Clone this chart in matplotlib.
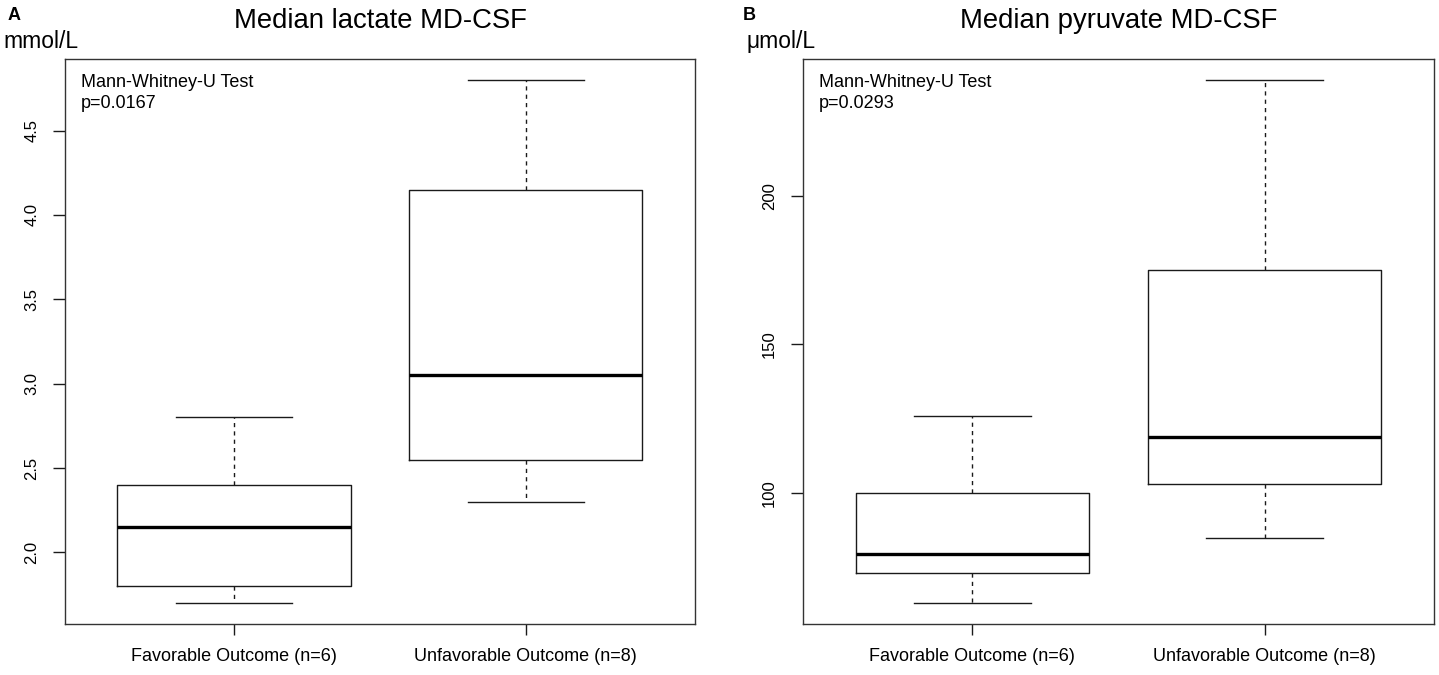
import matplotlib
matplotlib.use('Agg')
import matplotlib.pyplot as plt

plt.rcParams['font.family'] = ['Liberation Sans', 'DejaVu Sans']

W, H = 1439, 675

groups = ['Favorable Outcome (n=6)', 'Unfavorable Outcome (n=8)']

# five-number summaries: low whisker, Q1, median, Q3, high whisker
lactate_low = [1.70, 2.30]
lactate_q1 = [1.80, 2.55]
lactate_med = [2.15, 3.05]
lactate_q3 = [2.40, 4.15]
lactate_high = [2.80, 4.80]
lactate_ticks = [2.0, 2.5, 3.0, 3.5, 4.0, 4.5]

pyruvate_low = [63, 85]
pyruvate_q1 = [73, 103]
pyruvate_med = [79.5, 119]
pyruvate_q3 = [100, 175]
pyruvate_high = [126, 239]
pyruvate_ticks = [100, 150, 200]

panels = [
    dict(letter='A', title='Median lactate MD-CSF', unit='mmol/L', p='p=0.0167',
         low=lactate_low, q1=lactate_q1, med=lactate_med, q3=lactate_q3, high=lactate_high,
         ticks=lactate_ticks, fmt='{:.1f}', left=65, right=695, letter_x=8, unit_x=3),
    dict(letter='B', title='Median pyruvate MD-CSF', unit='\u03bcmol/L', p='p=0.0293',
         low=pyruvate_low, q1=pyruvate_q1, med=pyruvate_med, q3=pyruvate_q3, high=pyruvate_high,
         ticks=pyruvate_ticks, fmt='{:.0f}', left=803, right=1434, letter_x=743, unit_x=747),
]

top, bottom = 59, 624

fig = plt.figure(figsize=(W / 100, H / 100), dpi=100)

for pn in panels:
    ax = fig.add_axes([pn['left'] / W, (H - bottom) / H,
                       (pn['right'] - pn['left']) / W, (bottom - top) / H])

    stats = []
    for i in range(2):
        stats.append(dict(whislo=pn['low'][i], q1=pn['q1'][i], med=pn['med'][i],
                          q3=pn['q3'][i], whishi=pn['high'][i], fliers=[]))

    ax.bxp(stats, positions=[1, 2], widths=0.8, capwidths=0.4, showfliers=False,
           boxprops=dict(color='#1a1a1a', lw=1.0),
           whiskerprops=dict(color='#1a1a1a', lw=1.0, linestyle=(0, (3, 3))),
           capprops=dict(color='#1a1a1a', lw=1.0),
           medianprops=dict(color='black', lw=2.4, solid_capstyle='butt'))

    # R style 4% padding around data range
    lo, hi = min(pn['low']), max(pn['high'])
    pad = 0.04 * (hi - lo)
    ax.set_ylim(lo - pad, hi + pad)
    ax.set_xlim(0.42, 2.58)

    ax.set_xticks([1, 2])
    ax.set_xticklabels(groups, fontsize=13)
    ax.set_yticks(pn['ticks'])
    ax.set_yticklabels([pn['fmt'].format(t) for t in pn['ticks']], fontsize=12,
                       rotation=90, va='center')
    ax.tick_params(axis='x', length=8, width=1.0, pad=9.5, color='#1a1a1a')
    ax.tick_params(axis='y', length=8.6, width=1.0, pad=10, color='#1a1a1a')
    for s in ax.spines.values():
        s.set_linewidth(1.0)
        s.set_color('#333333')

    cx = (pn['left'] + pn['right']) / 2
    fig.text(cx / W, 1 - 28 / H, pn['title'], fontsize=19.8, ha='center', va='baseline')
    fig.text(pn['letter_x'] / W, 1 - 20 / H, pn['letter'], fontsize=13, fontweight='bold',
             ha='left', va='baseline')
    fig.text(pn['unit_x'] / W, 1 - 48 / H, pn['unit'], fontsize=16.5, ha='left', va='baseline')
    fig.text((pn['left'] + 16) / W, 1 - 87 / H, 'Mann-Whitney-U Test', fontsize=13,
             ha='left', va='baseline')
    fig.text((pn['left'] + 16) / W, 1 - 108 / H, pn['p'], fontsize=13,
             ha='left', va='baseline')

fig.savefig('out.png', dpi=100)
